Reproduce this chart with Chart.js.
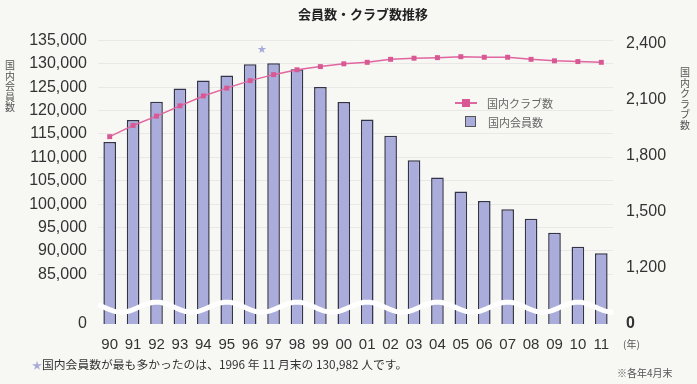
<!DOCTYPE html>
<html lang="ja">
<head>
<meta charset="utf-8">
<script src="https://cdn.jsdelivr.net/npm/chart.js@4/dist/chart.umd.min.js"></script>
<style>
  html, body { margin: 0; padding: 0; background: #f7f7f4; }
  #wrap { position: relative; width: 697px; height: 384px; overflow: hidden;
          font-family: "Noto Sans CJK JP", sans-serif; color: #333; }
  canvas { position: absolute; left: 0; top: 0; }
  .abs { position: absolute; white-space: nowrap; }
  #title { left: 298px; top: 5px; font-size: 13px; font-weight: bold; line-height: 18px; color: #222; }
  .vtitle { font-size: 10px; line-height: 10.5px; color: #555; text-align: center; width: 12px; }
  .vtitle span { display: block; }
  #ltitle { left: 4px; top: 60px; }
  #rtitle { left: 679px; top: 67px; }
  .legend { font-size: 11px; color: #666; line-height: 14px; }
  #leg1 { left: 455px; top: 96px; }
  #leg2 { left: 455px; top: 115px; }
  .legline { display: inline-block; position: relative; width: 22px; height: 14px; vertical-align: top; margin-right: 10px; }
  .legline::before { content: ""; position: absolute; left: 0; right: 0; top: 6px; height: 2px; background: #e0669f; }
  .legline::after { content: ""; position: absolute; left: 7px; top: 3px; width: 8px; height: 8px; background: #d85893; }
  .legbox { display: inline-block; width: 9px; height: 9px; background: #aaaddb; border: 1px solid #555;
            vertical-align: top; margin: 1px 12px 0 10px; }
  #nen { left: 623px; top: 336px; font-size: 10px; color: #555; }
  #note { left: 617px; top: 365px; font-size: 10px; color: #555; }
  #foot { left: 32px; top: 355px; font-size: 11.8px; color: #333; }
  #foot .star { color: #a9acd9; font-size: 10px; }
</style>
</head>
<body>
<div id="wrap">
  <canvas id="chart" width="697" height="384"></canvas>
  <div id="title" class="abs">会員数・クラブ数推移</div>
  <div id="ltitle" class="abs vtitle"></div>
  <div id="rtitle" class="abs vtitle"></div>
  <div id="leg1" class="abs legend"><span class="legline"></span><span id="leg1t"></span></div>
  <div id="leg2" class="abs legend"><span class="legbox"></span><span id="leg2t"></span></div>
  <div id="nen" class="abs">(年)</div>
  <div id="note" class="abs">※各年4月末</div>
  <div id="foot" class="abs"><span class="star">★</span>国内会員数が最も多かったのは、1996 年 11 月末の 130,982 人です。</div>
</div>
<script>
'use strict';

// ── data ─────────────────────────────────────────────────────────────────────
const YEARS = ['90', '91', '92', '93', '94', '95', '96', '97', '98', '99', '00',
               '01', '02', '03', '04', '05', '06', '07', '08', '09', '10', '11'];

const MEMBERS = [113300, 118000, 121900, 124700, 126400, 127500, 129900, 130100, 128800, 125000, 121800,
                 118100, 114600, 109400, 105700, 102700, 100700, 98900, 96900, 93900, 90900, 89500];

const CLUBS = [1900, 1960, 2010, 2065, 2118, 2160, 2200, 2232, 2258, 2275, 2290,
               2298, 2314, 2320, 2323, 2328, 2325, 2325, 2314, 2306, 2302, 2298];

const MEMBER_TICKS = [85000, 90000, 95000, 100000, 105000, 110000, 115000, 120000, 125000, 130000, 135000];
const CLUB_TICKS = [1200, 1500, 1800, 2100, 2400];

const LABEL_CLUBS = '国内クラブ数';
const LABEL_MEMBERS = '国内会員数';
const PEAK_MEMBERS = 130982;   // 1996年11月末 (star marker between 96 and 97)

// broken axes: the "0" tick sits at these scale values
const MEMBER_MIN = 74400, MEMBER_MAX = 137200;
const CLUB_MIN = 897, CLUB_MAX = 2471;
const BREAK_AT = 78000;        // where the wavy break is drawn (left scale)

const COLORS = {
  bar:      '#aaaddb',
  barEdge:  '#33334a',
  line:     '#e0669f',
  point:    '#d85893',
  grid:     '#e9e8e6',
  tick:     '#333333',
  star:     '#a9acd9',
};

const Y_FONT = { family: '"Liberation Sans", Arial, sans-serif', size: 16 };
const X_FONT = { family: '"Liberation Sans", Arial, sans-serif', size: 15 };

document.getElementById('leg1t').textContent = LABEL_CLUBS;
document.getElementById('leg2t').textContent = LABEL_MEMBERS;

// stacked (one char per line) axis titles
function stackText(id, text) {
  const el = document.getElementById(id);
  for (const ch of text) {
    const s = document.createElement('span');
    s.textContent = ch;
    el.appendChild(s);
  }
}
stackText('ltitle', LABEL_MEMBERS);
stackText('rtitle', LABEL_CLUBS);

// ── wavy axis break + peak star ──────────────────────────────────────────────
const breakPlugin = {
  id: 'axisBreak',
  afterDatasetsDraw(chart) {
    const { ctx, chartArea, scales } = chart;
    const x = scales.x, y = scales.y;
    const cy = y.getPixelForValue(BREAK_AT);
    const x0 = x.getPixelForValue(2);             // a crest sits over '92'
    const period = (x.getPixelForValue(3) - x.getPixelForValue(0));
    ctx.save();
    ctx.strokeStyle = '#ffffff';
    ctx.lineWidth = 5;
    ctx.beginPath();
    for (let px = chartArea.left; px <= chartArea.right; px += 1) {
      const py = cy - 5 * Math.cos(2 * Math.PI * (px - x0) / period);
      if (px === chartArea.left) ctx.moveTo(px, py); else ctx.lineTo(px, py);
    }
    ctx.stroke();

    // peak star
    const sx = (x.getPixelForValue(6) + x.getPixelForValue(7)) / 2;
    const sy = y.getPixelForValue(PEAK_MEMBERS) - 9;
    ctx.fillStyle = COLORS.star;
    ctx.font = '11px "DejaVu Sans", sans-serif';
    ctx.textAlign = 'center';
    ctx.textBaseline = 'middle';
    ctx.fillText('★', sx, sy);
    ctx.restore();
  },
};

function fixedTicks(values, min) {
  return scale => { scale.ticks = [min, ...values].map(v => ({ value: v })); };
}

new Chart(document.getElementById('chart').getContext('2d'), {
  data: {
    labels: YEARS,
    datasets: [
      {
        type: 'line',
        label: LABEL_CLUBS,
        data: CLUBS,
        yAxisID: 'y1',
        order: 1,
        borderColor: COLORS.line,
        borderWidth: 1.5,
        pointStyle: 'rect',
        pointRadius: 3.5,
        pointBackgroundColor: COLORS.point,
        pointBorderColor: COLORS.point,
        pointBorderWidth: 0,
        tension: 0,
      },
      {
        type: 'bar',
        label: LABEL_MEMBERS,
        data: MEMBERS,
        yAxisID: 'y',
        order: 2,
        backgroundColor: COLORS.bar,
        borderColor: COLORS.barEdge,
        borderWidth: 1.5,
        borderSkipped: false,
        barPercentage: 0.54,
        categoryPercentage: 1,
      },
    ],
  },
  options: {
    responsive: false,
    animation: false,
    layout: { padding: { top: 30, left: 0, right: 0, bottom: 0 } },
    plugins: { legend: { display: false }, tooltip: { enabled: false } },
    scales: {
      x: {
        grid: { display: false, drawTicks: false },
        border: { display: false },
        ticks: { color: COLORS.tick, font: X_FONT, padding: 12, maxRotation: 0 },
        afterFit: s => { s.height = 60; },
      },
      y: {
        position: 'left',
        min: MEMBER_MIN,
        max: MEMBER_MAX,
        afterBuildTicks: fixedTicks(MEMBER_TICKS, MEMBER_MIN),
        grid: {
          drawTicks: false,
          color: c => (c.tick && c.tick.value === MEMBER_MIN) ? 'rgba(0,0,0,0)' : COLORS.grid,
        },
        border: { display: false },
        ticks: {
          color: COLORS.tick,
          font: Y_FONT,
          padding: 11,
          callback: v => v === MEMBER_MIN ? '0' : v.toLocaleString('en-US'),
        },
        afterFit: s => { s.width = 98; },
      },
      y1: {
        position: 'right',
        min: CLUB_MIN,
        max: CLUB_MAX,
        afterBuildTicks: fixedTicks(CLUB_TICKS, CLUB_MIN),
        grid: { display: false, drawTicks: false },
        border: { display: false },
        ticks: {
          color: COLORS.tick,
          font: c => (c.tick && c.tick.value === CLUB_MIN)
            ? Object.assign({}, Y_FONT, { weight: 'bold' })
            : Y_FONT,
          padding: 13,
          callback: v => v === CLUB_MIN ? '0' : v.toLocaleString('en-US'),
        },
        afterFit: s => { s.width = 84; },
      },
    },
  },
  plugins: [breakPlugin],
});
</script>
</body>
</html>
